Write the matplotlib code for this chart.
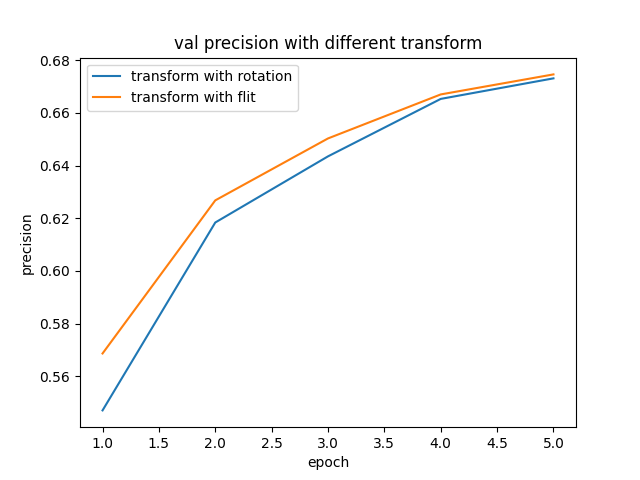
import matplotlib
matplotlib.use("Agg")
import matplotlib.pyplot as plt

epochs = [1, 2, 3, 4, 5]
rotation = [0.5471, 0.6184, 0.6435, 0.6653, 0.6731]
flit = [0.5687, 0.6268, 0.6503, 0.6670, 0.6746]

fig, ax = plt.subplots(figsize=(6.4, 4.8), dpi=100)
ax.plot(epochs, rotation, label="transform with rotation")
ax.plot(epochs, flit, label="transform with flit")
ax.set_title("val precision with different transform")
ax.set_xlabel("epoch")
ax.set_ylabel("precision")
ax.legend(loc="upper left")
fig.savefig("out.png")
